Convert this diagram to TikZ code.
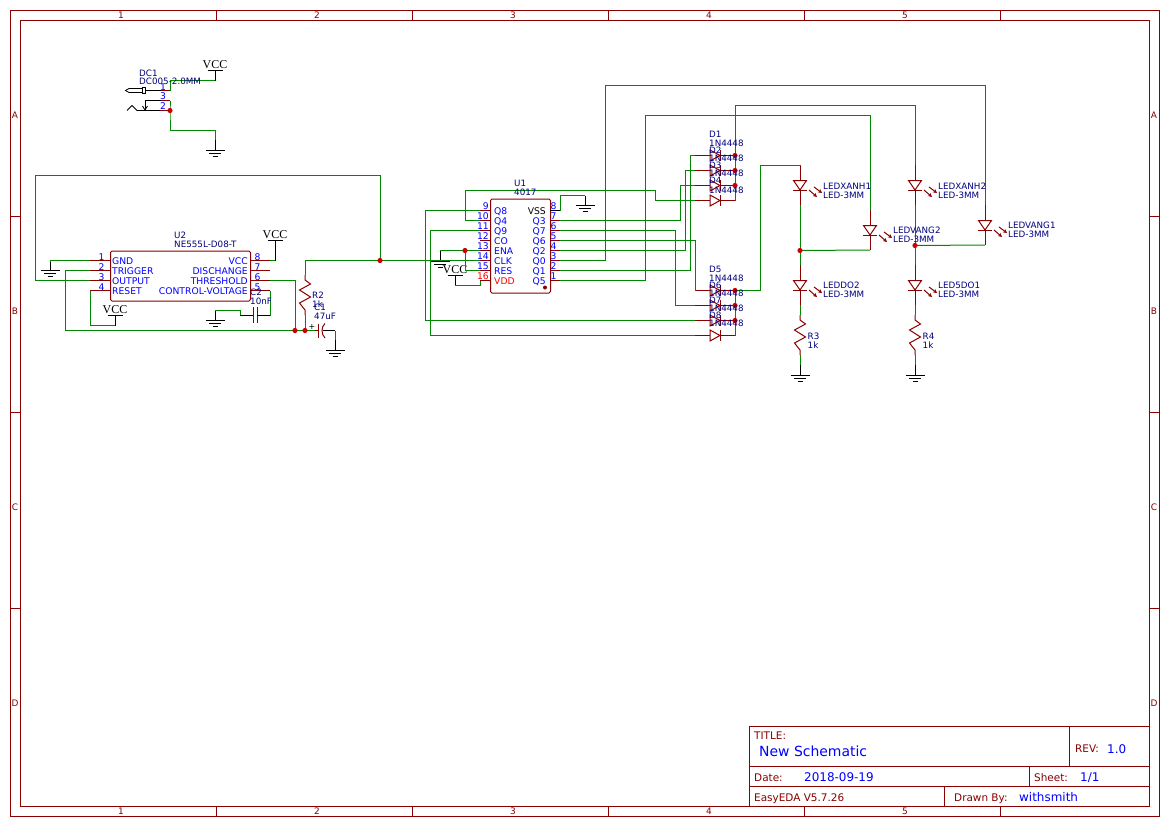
\documentclass[tikz,border=0pt]{standalone}
\usepackage{fontspec}
\setmainfont{DejaVu Sans}
\newfontfamily\vccfont{Liberation Serif}
\usetikzlibrary{arrows.meta}
\definecolor{wirec}{HTML}{008800}
\definecolor{partc}{HTML}{880000}
\definecolor{junc}{HTML}{CC0000}
\definecolor{framec}{HTML}{880000}
\definecolor{navyc}{HTML}{000080}
\definecolor{bluec}{HTML}{0000FF}
\tikzset{
  wire/.style={draw=wirec,line width=1bp,line join=miter},
  part/.style={draw=partc,line width=1bp},
  blk/.style={draw=black,line width=1bp},
  frm/.style={draw=framec,line width=1bp},
  pinname/.style={font=\fontsize{9.25}{9.25}\selectfont,text=bluec,inner sep=0pt,yshift=-1bp},
  partname/.style={font=\fontsize{8.8}{9}\selectfont,text=navyc,inner sep=0pt},
  frmtext/.style={font=\fontsize{9}{9}\selectfont,text=framec,inner sep=0pt},
  dash1/.style={font=\fontsize{10.5}{11}\selectfont,text=framec,inner sep=0pt,yshift=-.8bp},
  blue12/.style={font=\fontsize{12}{12}\selectfont,text=bluec,inner sep=0pt,yshift=-1bp},
  vccstyle/.style={font=\vccfont\fontsize{12}{12}\selectfont,text=black,inner sep=0pt},
}
\newcounter{tc}
% left text: x, centre y of capitals, style, text
\newcommand{\tl}[4]{\stepcounter{tc}\node[#3,anchor=base west] (t\arabic{tc}) at (#1,#2+3.2) {#4};}
\newcommand{\tr}[4]{\stepcounter{tc}\node[#3,anchor=base east] (t\arabic{tc}) at (#1,#2+3.2) {#4};}
\newcommand{\tc}[4]{\stepcounter{tc}\node[#3,anchor=base] (t\arabic{tc}) at (#1,#2+3.2) {#4};}
\newcommand{\gndsym}[4]{\coordinate (#1) at (#2,#3);
  \draw[blk] (#2,#3) -- (#2,#4);
  \draw[blk] (#2-9.5,#4+.5) -- (#2+9.5,#4+.5) (#2-6,#4+3.5) -- (#2+6,#4+3.5) (#2-2.5,#4+6.5) -- (#2+2.5,#4+6.5);}
\newcommand{\vccsym}[4]{\coordinate (#1) at (#2,#4);
  \draw[blk] (#2,#4) -- (#2,#3+.5) (#2-7.5,#3+.5) -- (#2+7.5,#3+.5);
  \stepcounter{tc}\node[vccstyle,anchor=base] (t\arabic{tc}) at (#2,#3-1.5) {VCC};}
\newcommand{\dio}[2]{\coordinate (#1a) at (695,#2); \coordinate (#1k) at (735,#2);
  \draw[part] (695,#2) -- (710,#2) (720,#2) -- (735,#2);
  \draw[part] (710,#2-5.5) -- (710,#2+5.5) -- (720,#2) -- cycle;
  \draw[part] (720,#2-5.5) -- (720,#2+5.5);}
\newcommand{\ledsym}[3]{\coordinate (#1a) at (#2,#3-15); \coordinate (#1k) at (#2,#3+25);
  \draw[part] (#2,#3-15) -- (#2,#3) (#2,#3+10) -- (#2,#3+25);
  \draw[part] (#2-6.5,#3+.5) -- (#2+6.5,#3+.5) -- (#2,#3+10) -- cycle;
  \draw[part] (#2-7,#3+10.5) -- (#2+7,#3+10.5);
  \draw[part,-{Stealth[length=4bp,width=4bp]}] (#2+9,#3+10) -- (#2+17,#3+17);
  \draw[part,-{Stealth[length=4bp,width=4bp]}] (#2+14,#3+7) -- (#2+22,#3+13);}
\newcommand{\ressym}[3]{\coordinate (#1t) at (#2,#3-5); \coordinate (#1b) at (#2,#3+35);
  \draw[part,line join=miter] (#2,#3-5) -- (#2,#3) -- (#2+5.5,#3+4) -- (#2-5.5,#3+10) -- (#2+5.5,#3+17) -- (#2-5.5,#3+23) -- (#2,#3+30) -- (#2,#3+35);}
\newcommand{\jun}[1]{\fill[junc] (#1) circle (2.6bp);}
\begin{document}
\begin{tikzpicture}[x=1bp,y=-1bp]
\useasboundingbox (0,0) rectangle (1169,827);
\fill[white] (0,0) rectangle (1169,827);
% ---------- frame
\draw[frm] (10,10.5) rectangle (1159,816.5);
\draw[frm] (20,20.5) rectangle (1149,806.5);
\foreach \x in {216,412,608,804,1000}{\draw[frm] (\x,10.5) -- (\x,20.5) (\x,806.5) -- (\x,816.5);}
\foreach \y in {216.5,412.5,608.5}{\draw[frm] (10,\y) -- (20,\y) (1149,\y) -- (1159,\y);}
\foreach \n/\x in {1/121,2/317,3/513,4/709,5/905}{
  \tc{\x}{15.5}{frmtext}{\n}\tc{\x}{811.5}{frmtext}{\n}}
\foreach \n/\y in {A/115,B/311,C/507,D/703}{
  \tc{15}{\y}{frmtext}{\n}\tc{1154}{\y}{frmtext}{\n}}
% ---------- title block
\draw[frm] (749,726.5) rectangle (1149,806.5);
\draw[frm] (749,766.5) -- (1149,766.5) (749,786.5) -- (1149,786.5);
\draw[frm] (1069,726.5) -- (1069,766.5) (1029,766.5) -- (1029,786.5) (944,786.5) -- (944,806.5);
\tl{754}{735}{dash1}{TITLE:}
\tl{759}{753}{font=\fontsize{14}{14}\selectfont,text=bluec,inner sep=0pt}{New Schematic}
\tl{1075}{748.5}{dash1}{REV:}
\tl{1107}{749}{blue12}{1.0}
\tl{754}{777.5}{dash1}{Date:}
\tl{804}{777}{blue12}{2018-09-19}
\tl{1034}{777.5}{dash1}{Sheet:}
\tl{1080}{777}{blue12}{1/1}
\tl{754}{797.5}{dash1}{EasyEDA V5.7.26}
\tl{954}{797.5}{dash1}{Drawn By:}
\tl{1019}{797}{blue12}{withsmith}
% ---------- pin coordinates
\coordinate (dc1p1) at (170,90.5);
\coordinate (dc1p3) at (170,100.5);
\coordinate (dc1p2) at (170,110.5);
\foreach \n/\y in {1/260.5,2/270.5,3/280.5,4/290.5}{\coordinate (u2p\n) at (90,\y);}
\foreach \n/\y in {8/260.5,7/270.5,6/280.5,5/290.5}{\coordinate (u2p\n) at (270,\y);}
\foreach \n/\y in {9/210.5,10/220.5,11/230.5,12/240.5,13/250.5,14/260.5,15/270.5,16/280.5}{\coordinate (u1p\n) at (480,\y);}
\foreach \n/\y in {8/210.5,7/220.5,6/230.5,5/240.5,4/250.5,3/260.5,2/270.5,1/280.5}{\coordinate (u1p\n) at (560,\y);}
\coordinate (jclk) at (380,260.5);
\coordinate (jres) at (465,250.5);
\coordinate (jc) at (305,330.5);
\coordinate (jth) at (295,330.5);
\coordinate (c2l) at (240,315.5);
\coordinate (c2r) at (270,315.5);
\coordinate (c1l) at (315,330.5);
\coordinate (c1r) at (335,330.5);
% ---------- power symbols
\vccsym{vcc1}{215}{70}{80.5}
\gndsym{gnd1}{215}{140}{150}
\gndsym{gnd2}{50}{262}{270}
\vccsym{vcc2}{275}{240}{260.5}
\vccsym{vcc3}{115}{315}{325.5}
\gndsym{gnd3}{215}{310.5}{320}
\gndsym{gnd4}{335}{340}{350}
\gndsym{gnd5}{440}{250.5}{261}
\vccsym{vcc4}{455}{275}{285.5}
\gndsym{gnd6}{585}{195.5}{205}
\gndsym{gnd7}{800}{365}{375}
\gndsym{gnd8}{915}{365}{375}
% ---------- parts
\dio{d1}{155.5}\dio{d2}{170.5}\dio{d3}{185.5}\dio{d4}{200.5}
\dio{d5}{290.5}\dio{d6}{305.5}\dio{d7}{320.5}\dio{d8}{335.5}
\ledsym{lx1}{800}{180}
\ledsym{lv2}{870}{225}
\ledsym{ldo}{800}{280}
\ledsym{lx2}{915}{180}
\ledsym{lv1}{985}{220}
\ledsym{l5d}{915}{280}
\ressym{r2}{305}{280}
\ressym{r3}{800}{320}
\ressym{r4}{915}{320}
% ---------- wires
\draw[wire] (dc1p1) |- (vcc1);
\draw[wire] (dc1p3) -- (dc1p2) -- (170,130.5) -| (gnd1);
\draw[wire] (u2p1) -| (gnd2);
\draw[wire] (u2p2) -- (65,270.5) |- (jth) -- (jc);
\draw[wire] (u2p3) -- (35,280.5) |- (380,175.5) -- (jclk);
\draw[wire] (u2p4) |- (vcc3);
\draw[wire] (u2p8) -| (vcc2);
\draw[wire] (u2p6) -| (jth);
\draw[wire] (u2p5) -- (c2r);
\draw[wire] (c2l) |- (gnd3);
\draw[wire] (r2t) -- (305,260.5) -- (jclk) -- (u1p14);
\draw[wire] (r2b) -- (jc) -- (c1l);
\draw[wire] (c1r) -- (gnd4);
% 4017 left
\draw[wire] (u1p9) -| (425,320.5) -- (d7a);
\draw[wire] (u1p11) -| (430,335.5) -- (d8a);
\draw[wire] (u1p10) -| (465,190.5) -- (655,190.5) |- (d4a);
\draw[wire] (u1p13) -| (gnd5);
\draw[wire] (u1p15) -| (jres);
\draw[wire] (u1p16) |- (vcc4);
% 4017 right
\draw[wire] (u1p8) -- (560,195.5) -- (gnd6);
\draw[wire] (u1p7) -| (680,185.5) -- (d3a);
\draw[wire] (u1p6) -| (675,305.5) -- (d6a);
\draw[wire] (u1p5) -| (695,290.5) -- (d5a);
\draw[wire] (u1p4) -| (685,170.5) -- (d2a);
\draw[wire] (u1p2) -| (690,155.5) -- (d1a);
\draw[wire] (u1p3) -| (605,85.5) -- (985,85.5) -- (lv1a);
\draw[wire] (u1p1) -| (645,115.5) -- (870,115.5) -- (lv2a);
% diode commons
\draw[wire] (d4k) -- (735,105.5) -- (915,105.5) -- (lx2a);
\draw[wire] (d8k) -- (d5k) -- (760,290.5) -- (760,165.5) -| (lx1a);
% LED net
\draw[wire] (lx1k) -- (ldoa);
\draw[wire] (800,250.5) -- (lv2k);
\draw[wire] (lx2k) -- (l5da);
\draw[wire] (915,245.5) -- (lv1k);
\draw[wire] (ldok) -- (r3t);
\draw[wire] (l5dk) -- (r4t);
\draw[wire] (r3b) -- (gnd7);
\draw[wire] (r4b) -- (gnd8);
% ---------- DC1 jack
\draw[part] (dc1p1) -- (161,90.5) (dc1p3) -- (161,100.5) (dc1p2) -- (160,110.5);
\draw[blk,line width=.8bp] (161,90.5) -- (146,90.5);
\draw[blk,line width=.8bp] (142,87.5) rectangle (145.5,93);
\draw[blk,line width=.8bp] (142,88.5) -- (129,88.5) -- (125.5,90.5) -- (129,92.5) -- (142,92.5);
\draw[blk,line width=.8bp] (161,100.5) -- (145,100.5) -- (145,110);
\draw[blk,line width=.8bp] (142.5,106) -- (145,110) -- (147.5,106);
\draw[blk,line width=.8bp] (160,110.5) -- (137,110.5) -- (132,105.5) -- (127,110.5);
\jun{dc1p2}
\tl{139}{73}{partname}{DC1}
\tl{139}{81.5}{partname}{DC005-2.0MM}
\tc{163}{86.5}{pinname}{1}
\tc{163}{95.5}{pinname}{3}
\tc{163}{105.5}{pinname}{2}
% ---------- U2
\node[draw=partc,line width=1bp,rounded corners=1.5bp,minimum width=140bp,minimum height=50bp,inner sep=0pt,anchor=north west] (u2) at (110,250.5) {};
\foreach \n in {1,2,3,4,5,6,7,8}{
  \ifnum\n<5 \draw[part] (u2p\n) -- ++(20,0); \else \draw[part] (u2p\n) -- ++(-20,0); \fi}
\foreach \n/\y/\s in {1/260.5/GND,2/270.5/TRIGGER,3/280.5/OUTPUT,4/290.5/RESET}{
  \tl{112}{\y}{pinname}{\s}\tc{101.5}{\y-4.5}{pinname}{\n}}
\foreach \n/\y/\s in {8/260.5/VCC,7/270.5/DISCHANGE,6/280.5/THRESHOLD,5/290.5/CONTROL-VOLTAGE}{
  \tr{248}{\y}{pinname}{\s}\tc{257.5}{\y-4.5}{pinname}{\n}}
\tl{174}{235.5}{partname}{U2}
\tl{174}{244.5}{partname}{NE555L-D08-T}
% ---------- C2
\draw[part] (253,307) -- (253,323) (257,307) -- (257,323);
\draw[blk] (c2l) -- (253,315.5) (257,315.5) -- (c2r);
\tl{250}{292.5}{partname}{C2}
\tl{250}{301.5}{partname}{10nF}
% ---------- R2 / C1
\tl{312}{295}{partname}{R2}
\tl{312}{304.5}{partname}{1k}
\tl{314}{307}{partname}{C1}
\tl{314}{316}{partname}{47uF}
\tc{312}{326.5}{font=\fontsize{8}{8}\selectfont,text=black,inner sep=0pt}{+}
\draw[part] (c1l) -- (318,330.5);
\draw[part] (318,323.5) -- (318,338);
\draw[part] (325,323.5) .. controls (321,327) and (321,334) .. (325,338);
\draw[blk] (322.5,330.5) -- (c1r);
\jun{jth}\jun{jc}\jun{jclk}
% ---------- U1
\node[draw=partc,line width=1bp,rounded corners=1.5bp,minimum width=60bp,minimum height=94bp,inner sep=0pt,anchor=north west] (u1) at (490,198.5) {};
\foreach \n in {9,10,11,12,13,14,15,16}{\draw[part] (u1p\n) -- ++(10,0);}
\foreach \n in {7,6,5,4,3,2,1}{\draw[part] (u1p\n) -- ++(-10,0);}
\draw[blk] (u1p8) -- ++(-10,0);
\fill[partc] (545,287.5) circle (2bp);
\foreach \n/\y/\s in {9/210.5/Q8,10/220.5/Q4,11/230.5/Q9,12/240.5/CO,13/250.5/ENA,14/260.5/CLK,15/270.5/RES}{
  \tl{494}{\y}{pinname}{\s}\tr{489}{\y-5.5}{pinname}{\n}}
\tl{494}{280.5}{pinname,text=red}{VDD}
\tr{489}{275}{pinname,text=red}{16}
\tr{546}{210.5}{pinname,text=black}{VSS}
\foreach \n/\y/\s in {7/220.5/Q3,6/230.5/Q7,5/240.5/Q6,4/250.5/Q2,3/260.5/Q0,2/270.5/Q1,1/280.5/Q5}{
  \tr{546}{\y}{pinname}{\s}}
\foreach \n/\y in {8/210.5,7/220.5,6/230.5,5/240.5,4/250.5,3/260.5,2/270.5,1/280.5}{
  \tc{553.5}{\y-5.5}{pinname}{\n}}
\tl{514}{183.5}{partname}{U1}
\tl{514}{192.5}{partname}{4017}
\jun{jres}
% ---------- junctions
\foreach \y in {155.5,170.5,185.5,290.5,305.5,320.5}{\fill[junc] (735,\y) circle (2.6bp);}
\fill[junc] (800,250.5) circle (2.6bp);
\fill[junc] (915,245.5) circle (2.6bp);
% ---------- diode labels
\foreach \s/\y in {D1/134,D2/150,D3/165,D4/180,D5/269,D6/285,D7/300,D8/315}{\tl{709}{\y}{partname}{\s}}
\foreach \y in {143,158,173,190.5,278.5,293,308,323}{\tl{709}{\y}{partname}{1N4448}}
% ---------- LED labels
\foreach \s/\x/\y in {LEDXANH1/823/186,LEDVANG2/893/230.5,LEDDO2/823/285.5,LEDXANH2/938/186,LEDVANG1/1008/225.5,LED5DO1/938/285.5}{
  \tl{\x}{\y}{partname}{\s}\tl{\x}{\y+8.8}{partname}{LED-3MM}}
\tl{807.5}{336}{partname}{R3}
\tl{807.5}{345}{partname}{1k}
\tl{922.5}{336}{partname}{R4}
\tl{922.5}{345}{partname}{1k}
\end{tikzpicture}
\end{document}
